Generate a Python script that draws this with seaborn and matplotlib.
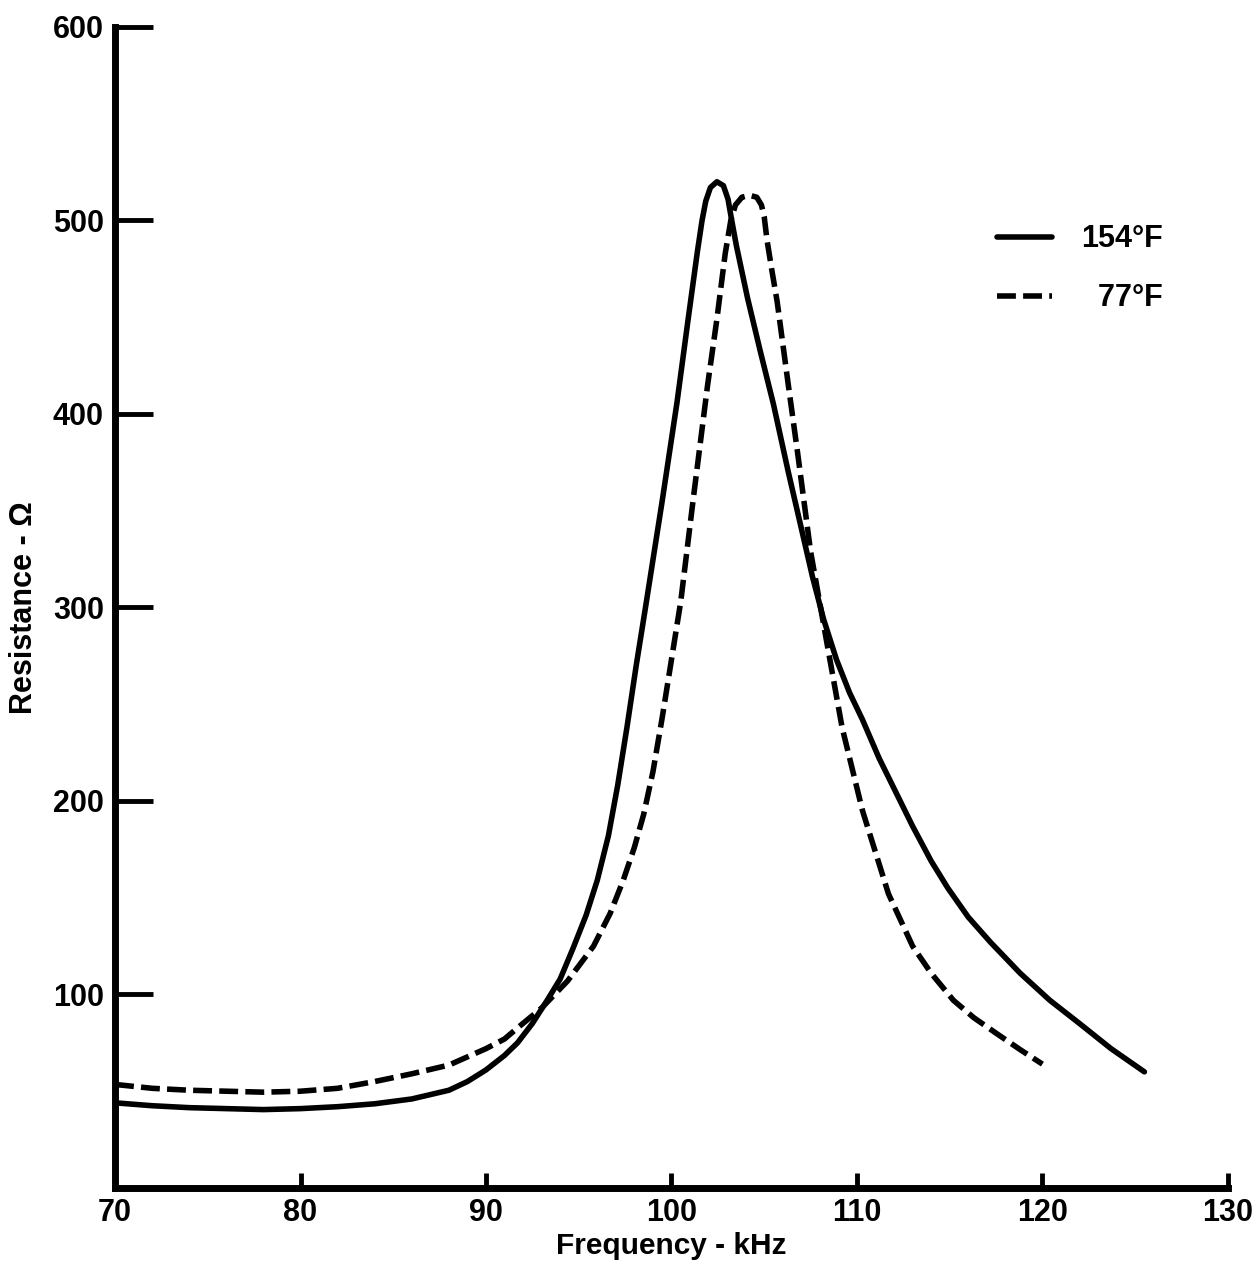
import matplotlib
matplotlib.use("Agg")
import matplotlib.pyplot as plt
import seaborn as sns
import pandas as pd

# Frequency (kHz) / resistance (ohm)
freq_154 = [70.0, 72.0, 74.0, 76.0, 78.0, 80.0, 82.0, 84.0, 86.0, 88.0, 89.0, 90.0,
            91.0, 91.7, 92.5, 93.3, 94.0, 94.7, 95.4, 96.0, 96.6, 97.1, 97.6, 98.1,
            98.6, 99.5, 100.3, 100.9, 101.4, 101.65, 101.85, 102.1, 102.45, 102.8,
            103.05, 103.25, 103.5, 104.1, 104.8, 105.5, 106.3, 107.0, 107.6, 108.2,
            108.9, 109.6, 110.3, 111.2, 113.0, 114.0, 114.9, 116.0, 117.2, 118.8,
            120.4, 122.0, 123.7, 125.5]
res_154 = [44, 42.5, 41.5, 41, 40.5, 41, 42, 43.5, 46, 50.5, 55, 61,
           68.5, 75, 85, 97, 108, 124, 141, 159, 182, 208, 238, 270,
           300, 355, 406, 449, 484, 500, 510, 517, 520, 518,
           511, 500, 487, 460, 432, 405, 370, 341, 316, 294,
           273, 256, 242, 222, 187, 169, 155, 140, 127, 111,
           97, 85, 72, 60]

freq_77 = [70.0, 72.0, 74.0, 76.0, 78.0, 80.0, 82.0, 84.0, 86.0, 88.0, 90.0, 91.0,
           91.7, 93.0, 94.4, 95.8, 96.7, 97.4, 98.0, 98.5, 99.0, 99.5, 100.0,
           100.5, 101.2, 101.95, 102.45, 102.9, 103.2, 103.45, 103.8, 104.2,
           104.6, 104.85, 105.0, 105.15, 105.4, 105.7, 106.3, 106.8, 107.5, 108.45,
           109.2, 110.3, 111.7, 113.0, 114.0, 115.2, 116.3, 117.5, 118.8, 120.0]
res_77 = [53.5, 51.5, 50.5, 50, 49.5, 50, 51.5, 55, 59, 63.5, 72, 77,
          82.7, 93, 107, 125, 142, 159, 176, 193, 215, 243, 273,
          303, 358, 415, 449, 483, 500, 508, 512, 513,
          512, 508, 502, 490, 475, 458, 415, 380, 329, 278,
          238, 195, 152, 125, 111, 97, 88, 80, 71.5, 64]

legend_labels = ["154°F", "  77°F"]
x_ticks = [70, 80, 90, 100, 110, 120, 130]
y_ticks = [100, 200, 300, 400, 500, 600]


def main():
    sns.set_style("ticks")
    plt.rcParams["font.family"] = ["Liberation Sans", "DejaVu Sans"]
    plt.rcParams["font.weight"] = "bold"
    plt.rcParams.update({"text.color": "black", "axes.labelcolor": "black",
                         "xtick.color": "black", "ytick.color": "black"})

    df_hot = pd.DataFrame({"freq": freq_154, "res": res_154})
    df_cold = pd.DataFrame({"freq": freq_77, "res": res_77})

    fig = plt.figure(figsize=(12.56, 12.65), dpi=100)
    ax = fig.add_axes([0.0916, 0.0609, 0.886, 0.9178])

    sns.lineplot(data=df_hot, x="freq", y="res", ax=ax, color="black",
                 linewidth=4, sort=False, estimator=None, label=legend_labels[0],
                 solid_capstyle="round", solid_joinstyle="round")
    sns.lineplot(data=df_cold, x="freq", y="res", ax=ax, color="black",
                 linewidth=4, sort=False, estimator=None, label=legend_labels[1])
    ax.lines[1].set_dashes((3.4, 1.3))

    ax.set_xlim(70, 130)
    ax.set_ylim(0, 600)
    ax.set_xticks(x_ticks)
    ax.set_yticks(y_ticks)
    ax.set_xticklabels([str(v) for v in x_ticks])
    ax.set_yticklabels([str(v) for v in y_ticks])

    for side in ["top", "right"]:
        ax.spines[side].set_visible(False)
    for side in ["left", "bottom"]:
        ax.spines[side].set_linewidth(5)
        ax.spines[side].set_color("black")

    ax.tick_params(axis="y", direction="in", length=27, width=3.5,
                   labelsize=22, pad=8)
    ax.tick_params(axis="x", direction="in", length=11, width=3.5,
                   labelsize=22, pad=7)
    for lab in ax.get_xticklabels() + ax.get_yticklabels():
        lab.set_fontweight("bold")

    ax.set_xlabel("Frequency - kHz", fontsize=21.5, fontweight="bold", labelpad=3)
    ax.set_ylabel("Resistance - Ω", fontsize=22, fontweight="bold", labelpad=10)

    leg = ax.legend(loc="upper left", bbox_to_anchor=(0.7925, 0.83),
                    frameon=False, fontsize=22, handlelength=1.8,
                    handletextpad=0.95, labelspacing=0.95, borderpad=0,
                    borderaxespad=0)
    for t in leg.get_texts():
        t.set_fontweight("bold")
    for h in leg.get_lines():
        h.set_linewidth(4)

    fig.savefig("out.png", dpi=100, facecolor="white")
    plt.close(fig)


if __name__ == "__main__":
    main()
